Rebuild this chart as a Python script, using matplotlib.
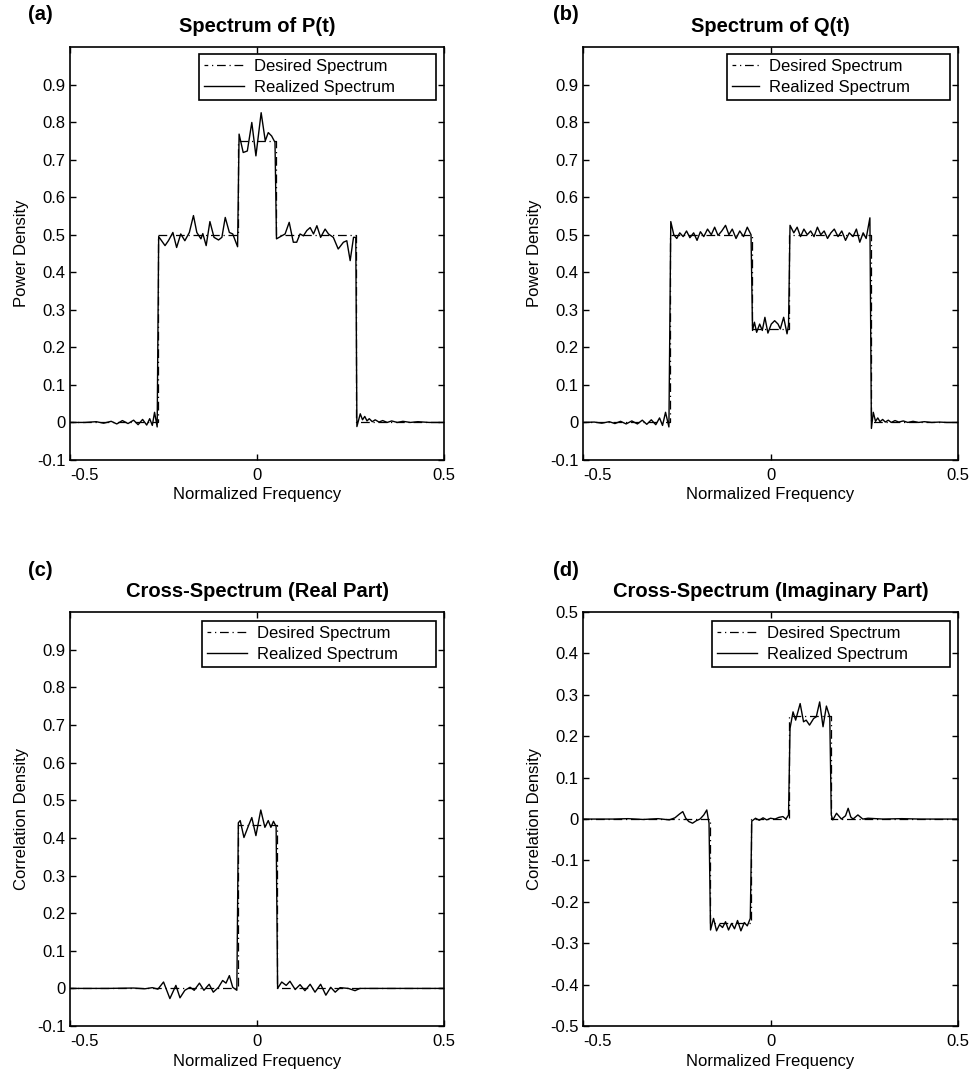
import numpy as np
import matplotlib.pyplot as plt
from matplotlib.ticker import FuncFormatter

plt.rcParams['font.family'] = ['Liberation Sans', 'DejaVu Sans']
plt.rcParams['axes.unicode_minus'] = False

# ---- data ----
# (a) spectrum of P(t)
fa = [-0.500, -0.460, -0.430, -0.410, -0.390, -0.375, -0.360, -0.345, -0.330, -0.318,
      -0.306, -0.295, -0.287, -0.280, -0.274, -0.267, -0.263, -0.246, -0.237, -0.225,
      -0.215, -0.204, -0.193, -0.181, -0.170, -0.161, -0.150, -0.145, -0.136, -0.126,
      -0.115, -0.103, -0.094, -0.085, -0.074, -0.065, -0.052, -0.048, -0.037, -0.026,
      -0.014, -0.003, 0.011, 0.022, 0.030, 0.039, 0.048, 0.052, 0.066, 0.075,
      0.086, 0.097, 0.106, 0.115, 0.124, 0.133, 0.142, 0.151, 0.160, 0.170,
      0.182, 0.191, 0.204, 0.217, 0.231, 0.240, 0.249, 0.258, 0.264, 0.267,
      0.276, 0.282, 0.288, 0.294, 0.300, 0.308, 0.316, 0.326, 0.336, 0.348,
      0.360, 0.375, 0.390, 0.410, 0.430, 0.460, 0.500]
pa = [0.000, 0.000, 0.002, -0.002, 0.003, -0.004, 0.005, -0.003, 0.006, -0.006,
      0.008, -0.007, 0.010, -0.008, 0.027, -0.012, 0.495, 0.471, 0.484, 0.506,
      0.466, 0.502, 0.484, 0.506, 0.551, 0.506, 0.489, 0.503, 0.471, 0.535,
      0.493, 0.486, 0.493, 0.546, 0.506, 0.502, 0.468, 0.768, 0.719, 0.723,
      0.799, 0.710, 0.825, 0.750, 0.772, 0.763, 0.746, 0.489, 0.497, 0.502,
      0.533, 0.480, 0.480, 0.502, 0.497, 0.511, 0.519, 0.502, 0.524, 0.493,
      0.515, 0.502, 0.493, 0.462, 0.480, 0.484, 0.431, 0.493, 0.493, -0.011,
      0.023, 0.007, 0.016, 0.004, 0.010, 0.002, 0.007, 0.001, 0.005, 0.000,
      0.004, 0.000, 0.003, 0.000, 0.002, 0.000, 0.000]
edges_a = [-0.265, -0.05, 0.05, 0.265]
levels_a = [0, 0.5, 0.75, 0.5, 0]

# (b) spectrum of Q(t)
fb = [-0.500, -0.470, -0.450, -0.430, -0.415, -0.400, -0.385, -0.370, -0.355, -0.342,
      -0.330, -0.318, -0.306, -0.296, -0.288, -0.280, -0.271, -0.266, -0.258, -0.250,
      -0.242, -0.233, -0.224, -0.215, -0.205, -0.196, -0.187, -0.178, -0.168, -0.158,
      -0.149, -0.140, -0.130, -0.120, -0.111, -0.102, -0.092, -0.082, -0.072, -0.062,
      -0.052, -0.048, -0.043, -0.037, -0.029, -0.022, -0.015, -0.007, 0.002, 0.011,
      0.020, 0.026, 0.035, 0.044, 0.048, 0.052, 0.062, 0.071, 0.080, 0.089,
      0.098, 0.107, 0.116, 0.125, 0.134, 0.143, 0.152, 0.161, 0.170, 0.180,
      0.190, 0.200, 0.210, 0.220, 0.229, 0.238, 0.247, 0.255, 0.265, 0.269,
      0.274, 0.280, 0.286, 0.292, 0.299, 0.306, 0.314, 0.322, 0.332, 0.342,
      0.354, 0.366, 0.380, 0.395, 0.410, 0.430, 0.450, 0.470, 0.500]
qb = [0.000, 0.001, -0.002, 0.002, -0.003, 0.003, -0.004, 0.004, -0.004, 0.006,
      -0.005, 0.007, -0.006, 0.012, -0.008, 0.027, -0.012, 0.535, 0.500, 0.490,
      0.505, 0.495, 0.510, 0.492, 0.505, 0.485, 0.508, 0.495, 0.515, 0.500,
      0.520, 0.498, 0.510, 0.525, 0.500, 0.515, 0.490, 0.510, 0.495, 0.520,
      0.500, 0.245, 0.267, 0.240, 0.262, 0.245, 0.280, 0.238, 0.262, 0.271,
      0.262, 0.249, 0.280, 0.236, 0.260, 0.525, 0.505, 0.520, 0.495, 0.515,
      0.500, 0.510, 0.495, 0.520, 0.500, 0.510, 0.490, 0.505, 0.515, 0.495,
      0.510, 0.485, 0.505, 0.495, 0.515, 0.480, 0.505, 0.490, 0.545, -0.016,
      0.027, 0.003, 0.012, 0.002, 0.008, 0.001, 0.006, 0.000, 0.005, 0.001,
      0.004, 0.000, 0.003, 0.000, 0.002, 0.000, 0.001, 0.000, 0.000]
edges_b = [-0.268, -0.05, 0.05, 0.267]
levels_b = [0, 0.5, 0.25, 0.5, 0]

# (c) cross-spectrum, real part
fc = [-0.500, -0.400, -0.330, -0.300, -0.280, -0.265, -0.250, -0.233, -0.217, -0.206,
      -0.193, -0.179, -0.168, -0.154, -0.142, -0.128, -0.117, -0.103, -0.092, -0.083,
      -0.074, -0.065, -0.054, -0.050, -0.045, -0.035, -0.023, -0.014, -0.003, 0.010,
      0.021, 0.030, 0.037, 0.044, 0.051, 0.055, 0.066, 0.078, 0.088, 0.102,
      0.115, 0.128, 0.142, 0.155, 0.170, 0.184, 0.197, 0.209, 0.222, 0.244,
      0.262, 0.275, 0.500]
rc = [0.000, 0.000, 0.001, -0.001, 0.002, -0.002, 0.017, -0.027, 0.008, -0.025,
      -0.005, 0.003, -0.005, 0.014, -0.005, 0.011, -0.010, 0.003, 0.021, 0.014,
      0.034, 0.003, -0.005, 0.440, 0.446, 0.401, 0.432, 0.454, 0.406, 0.474,
      0.428, 0.446, 0.428, 0.444, 0.430, 0.000, 0.017, 0.008, 0.019, -0.003,
      0.010, -0.006, 0.011, -0.010, 0.011, -0.018, 0.003, -0.010, 0.002, 0.000,
      -0.006, 0.000, 0.000]
edges_c = [-0.052, 0.053]
levels_c = [0, 0.433, 0]

# (d) cross-spectrum, imaginary part
fd = [-0.500, -0.420, -0.380, -0.340, -0.300, -0.270, -0.255, -0.243, -0.234, -0.226,
      -0.218, -0.208, -0.198, -0.188, -0.178, -0.170, -0.164, -0.160, -0.152, -0.144,
      -0.136, -0.128, -0.120, -0.112, -0.104, -0.096, -0.088, -0.079, -0.070, -0.062,
      -0.054, -0.050, -0.040, -0.030, -0.020, -0.010, 0.000, 0.012, 0.022, 0.033,
      0.041, 0.048, 0.052, 0.060, 0.067, 0.079, 0.088, 0.095, 0.104, 0.115,
      0.122, 0.131, 0.140, 0.149, 0.158, 0.162, 0.166, 0.176, 0.189, 0.200,
      0.207, 0.214, 0.220, 0.233, 0.246, 0.260, 0.300, 0.350, 0.400, 0.500]
id_ = [0.000, 0.000, 0.001, -0.001, 0.001, -0.002, 0.003, 0.012, 0.018, 0.002,
       -0.006, -0.010, -0.004, 0.000, 0.010, 0.022, -0.010, -0.268, -0.240, -0.270,
       -0.255, -0.262, -0.248, -0.268, -0.252, -0.265, -0.245, -0.270, -0.250, -0.258,
       -0.240, -0.005, 0.002, -0.003, 0.003, -0.002, 0.002, 0.000, 0.004, 0.006,
       0.000, 0.010, 0.219, 0.259, 0.239, 0.279, 0.235, 0.239, 0.227, 0.243,
       0.247, 0.283, 0.223, 0.273, 0.247, 0.010, -0.002, 0.014, 0.000, 0.008,
       0.026, 0.005, 0.000, 0.010, 0.000, 0.002, 0.000, 0.001, 0.000, 0.000]
edges_d = [-0.162, -0.052, 0.050, 0.160]
levels_d = [0, -0.25, 0, 0.25, 0]

titles = ['Spectrum of P(t)', 'Spectrum of Q(t)',
          'Cross-Spectrum (Real Part)', 'Cross-Spectrum (Imaginary Part)']
ylabels = ['Power Density', 'Power Density', 'Correlation Density', 'Correlation Density']
tags = ['(a)', '(b)', '(c)', '(d)']


def step_line(edges, levels):
    xs = [-0.5]
    ys = [levels[0]]
    for i, e in enumerate(edges):
        xs += [e, e]
        ys += [levels[i], levels[i + 1]]
    xs.append(0.5)
    ys.append(levels[-1])
    return xs, ys


def fmt(v, _):
    v = round(v, 2)
    if v == 0:
        return '0'
    return '%g' % v


fig = plt.figure(figsize=(9.74, 10.78), dpi=100)

rects = [[0.0719, 0.5733, 0.3840, 0.3831],
         [0.5986, 0.5733, 0.3850, 0.3831],
         [0.0719, 0.0482, 0.3840, 0.3840],
         [0.5986, 0.0482, 0.3850, 0.3840]]
tag_pos = [(28, 15), (553, 15), (28, 570), (553, 570)]
leg_box = [(0.345, 0.983), (0.384, 0.983), (0.353, 0.978), (0.344, 0.978)]
handle_len = [2.4, 1.6, 2.4, 2.4]

freqs = [fa, fb, fc, fd]
vals = [pa, qb, rc, id_]
edges = [edges_a, edges_b, edges_c, edges_d]
levels = [levels_a, levels_b, levels_c, levels_d]

for k in range(4):
    ax = fig.add_axes(rects[k])
    dx, dy = step_line(edges[k], levels[k])
    ax.plot(dx, dy, color='black', lw=0.9, ls=(4, (7, 3, 1, 3)), label='Desired Spectrum')
    ax.plot(freqs[k], vals[k], color='black', lw=1.0, label='Realized Spectrum')

    ax.set_xlim(-0.5, 0.5)
    ax.set_xticks([-0.5, 0, 0.5])
    if k < 3:
        ax.set_ylim(-0.1, 1.0)
        ax.set_yticks(np.arange(-0.1, 0.95, 0.1))
    else:
        ax.set_ylim(-0.5, 0.5)
        ax.set_yticks(np.arange(-0.5, 0.55, 0.1))
    ax.yaxis.set_major_formatter(FuncFormatter(fmt))
    ax.xaxis.set_major_formatter(FuncFormatter(fmt))

    ax.tick_params(direction='in', top=True, right=True, length=4, width=1,
                   labelsize=12)
    ax.tick_params(axis='x', pad=6)
    ax.tick_params(axis='y', pad=3)
    for s in ax.spines.values():
        s.set_linewidth(1.2)

    ax.set_xlabel('Normalized Frequency', fontsize=12, labelpad=3)
    ax.set_ylabel(ylabels[k], fontsize=12, labelpad=6)
    ax.set_title(titles[k], fontsize=14.5, fontweight='bold', pad=11)

    fig.canvas.draw()
    ax.get_xticklabels()[0].set_horizontalalignment('left')

    x0, y1 = leg_box[k]
    leg = ax.legend(loc='upper left', bbox_to_anchor=(x0, 0, 0.979 - x0, y1),
                    mode='expand', borderaxespad=0, fontsize=12, fancybox=False,
                    edgecolor='black', framealpha=1, borderpad=0.3, labelspacing=0.35,
                    handlelength=handle_len[k], handletextpad=0.6)
    leg.get_frame().set_linewidth(1.2)

    fig.text(tag_pos[k][0] / 974, 1 - tag_pos[k][1] / 1078, tags[k],
             fontsize=14.5, fontweight='bold', va='center', ha='left')

fig.savefig('out.png', dpi=100)
